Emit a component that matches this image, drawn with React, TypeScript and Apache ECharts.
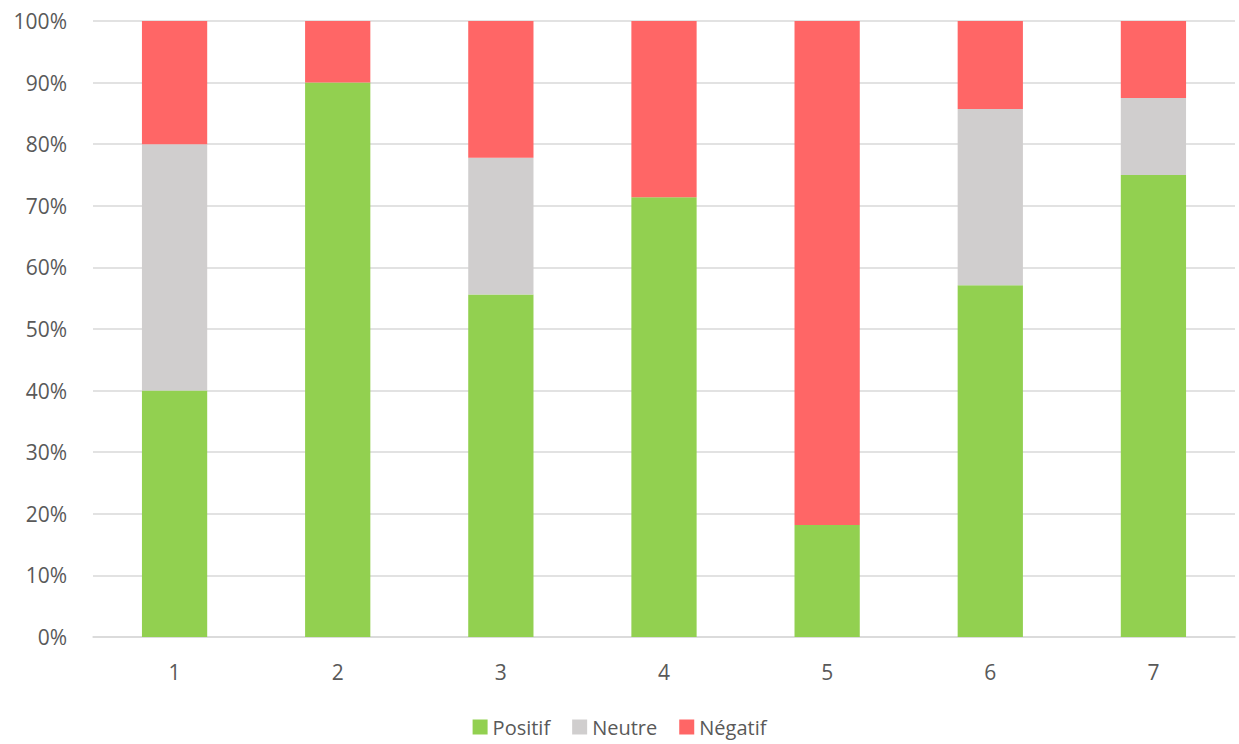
import React, { useEffect, useRef } from "react";
import * as echarts from "echarts";

const categories = ["1", "2", "3", "4", "5", "6", "7"];
const positif = [40, 90, 55.6, 71.4, 18.2, 57.1, 75];
const neutre = [40, 0, 22.2, 0, 0, 28.6, 12.5];
const negatif = [20, 10, 22.2, 28.6, 81.8, 14.3, 12.5];
const yTicks = [0, 10, 20, 30, 40, 50, 60, 70, 80, 90, 100];

const FONT = "'Open Sans', Lato, sans-serif";

export default function App() {
  const ref = useRef<HTMLDivElement>(null);
  useEffect(() => {
    const chart = echarts.init(ref.current!, null, { renderer: "svg" });
    const mk = (name: string, data: number[], color: string) => ({
      name,
      type: "bar",
      stack: "total",
      data,
      barWidth: "40%",
      itemStyle: { color },
      emphasis: { disabled: true },
    });
    chart.setOption({
      animation: false,
      grid: { left: 93, right: 4, top: 21, bottom: 107, containLabel: false },
      legend: {
        bottom: 2,
        left: "center",
        itemWidth: 15,
        itemHeight: 15,
        itemGap: 22,
        icon: "rect",
        textStyle: { fontFamily: FONT, fontSize: 20, color: "#595959" },
        data: ["Positif", "Neutre", "Négatif"],
      },
      xAxis: {
        type: "category",
        data: categories,
        axisLine: { lineStyle: { color: "#D9D9D9", width: 1.5 } },
        axisTick: { show: false },
        axisLabel: { fontFamily: FONT, fontSize: 21, color: "#595959", margin: 24 },
      },
      yAxis: {
        type: "value",
        min: yTicks[0],
        max: yTicks[yTicks.length - 1],
        interval: 10,
        axisLine: { show: false },
        axisTick: { show: false },
        splitLine: { lineStyle: { color: "#D9D9D9", width: 1.5 } },
        axisLabel: {
          fontFamily: FONT,
          fontSize: 21,
          color: "#595959",
          margin: 26,
          formatter: (v: number) => `${v}%`,
        },
      },
      series: [
        mk("Positif", positif, "#92D050"),
        mk("Neutre", neutre, "#D0CECE"),
        mk("Négatif", negatif, "#FF6666"),
      ],
    });
    return () => chart.dispose();
  }, []);
  return <div ref={ref} style={{ width: 1239, height: 744, position: "absolute", left: 0, top: 0 }} />;
}
